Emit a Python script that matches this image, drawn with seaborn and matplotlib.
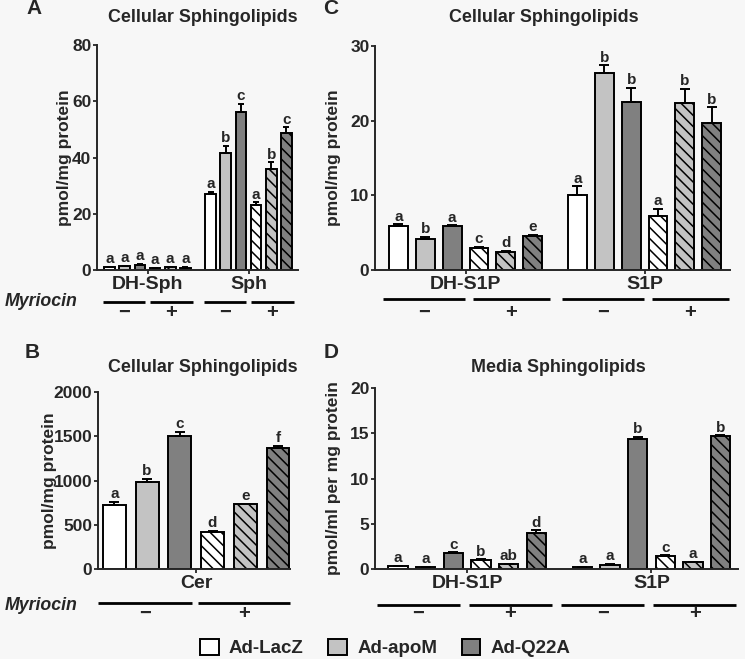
import numpy as np
import pandas as pd
import seaborn as sns
import matplotlib.pyplot as plt
from matplotlib.patches import Patch

sns.set_style("ticks")
plt.rcParams['font.family'] = ['Liberation Sans', 'DejaVu Sans']
plt.rcParams['font.weight'] = 'bold'
plt.rcParams['axes.labelweight'] = 'bold'
plt.rcParams['hatch.linewidth'] = 1.1
plt.rcParams['axes.linewidth'] = 1.4

# treatment groups (adenovirus) x myriocin
groups = ["Ad-LacZ", "Ad-apoM", "Ad-Q22A"]
conditions = ["Ad-LacZ -", "Ad-apoM -", "Ad-Q22A -", "Ad-LacZ +", "Ad-apoM +", "Ad-Q22A +"]
group_colors = ["#ffffff", "#c3c3c3", "#808080"]

# A: cellular DH-Sph / Sph (pmol/mg protein)
a_lipids = ["DH-Sph", "Sph"]
a_dhsph = [1.0, 1.3, 1.8, 0.6, 0.9, 0.8]
a_dhsph_err = [0.2, 0.3, 0.4, 0.1, 0.2, 0.2]
a_dhsph_sig = ["a", "a", "a", "a", "a", "a"]
a_sph = [27.0, 41.6, 56.3, 23.0, 35.9, 48.6]
a_sph_err = [0.9, 2.6, 2.8, 1.1, 2.4, 2.1]
a_sph_sig = ["a", "b", "c", "a", "b", "c"]

# C: cellular DH-S1P / S1P (pmol/mg protein)
c_lipids = ["DH-S1P", "S1P"]
c_dhs1p = [5.9, 4.1, 5.9, 3.0, 2.4, 4.6]
c_dhs1p_err = [0.2, 0.3, 0.1, 0.1, 0.15, 0.1]
c_dhs1p_sig = ["a", "b", "a", "c", "d", "e"]
c_s1p = [10.0, 26.4, 22.5, 7.2, 22.3, 19.7]
c_s1p_err = [1.2, 1.0, 1.9, 1.0, 2.0, 2.1]
c_s1p_sig = ["a", "b", "b", "a", "b", "b"]

# B: cellular ceramide (pmol/mg protein)
b_lipids = ["Cer"]
b_cer = [724, 983, 1505, 420, 732, 1370]
b_cer_err = [38, 38, 41, 12, 8, 22]
b_cer_sig = ["a", "b", "c", "d", "e", "f"]

# D: media DH-S1P / S1P (pmol/ml per mg protein)
d_lipids = ["DH-S1P", "S1P"]
d_dhs1p = [0.29, 0.22, 1.8, 1.0, 0.5, 3.94]
d_dhs1p_err = [0.05, 0.05, 0.05, 0.08, 0.05, 0.33]
d_dhs1p_sig = ["a", "a", "c", "b", "ab", "d"]
d_s1p = [0.18, 0.48, 14.4, 1.47, 0.77, 14.66]
d_s1p_err = [0.05, 0.1, 0.2, 0.05, 0.05, 0.1]
d_s1p_sig = ["a", "a", "b", "c", "a", "b"]

palette = {c: group_colors[i % 3] for i, c in enumerate(conditions)}
W, H = 745, 659


def draw_panel(ax, lipids, means, errs, sigs, yticks, xlim, ylabel, cap=3, sig_size=11):
    df = pd.DataFrame({"lipid": np.repeat(lipids, len(conditions)),
                       "cond": conditions * len(lipids),
                       "value": np.concatenate(means)})
    sns.barplot(data=df, x="lipid", y="value", hue="cond", order=lipids,
                hue_order=conditions, palette=palette, saturation=1,
                width=0.9, gap=0.3, edgecolor="black", linewidth=1.4,
                errorbar=None, legend=False, ax=ax)
    bar_conts = list(ax.containers)
    for k, cont in enumerate(bar_conts):
        for j, bar in enumerate(cont.patches):
            if k >= 3:
                bar.set_hatch('\\\\\\')
            xc = bar.get_x() + bar.get_width() / 2
            top, e = means[j][k], errs[j][k]
            ax.errorbar(xc, top, yerr=[[0], [e]], fmt='none', ecolor='black',
                        elinewidth=1.4, capsize=cap, capthick=1.4)
            ax.annotate(sigs[j][k], (xc, top + e), xytext=(0, 0.5),
                        textcoords='offset points', ha='center', va='bottom',
                        fontsize=sig_size, fontweight='bold')
    ax.set_facecolor('none')
    ax.set_ylim(yticks[0], yticks[-1])
    ax.set_yticks(yticks)
    ax.set_xlim(*xlim)
    ax.set_xticks(range(len(lipids)))
    ax.set_xticklabels(lipids, fontsize=14, fontweight='bold')
    ax.set_xlabel("")
    ax.set_ylabel(ylabel, fontsize=12.5, fontweight='bold')
    ax.tick_params(axis='y', labelsize=12.5, length=3, width=1.3, direction='out', pad=1)
    ax.tick_params(axis='x', length=3, width=1.3, direction='out', pad=1.5)
    sns.despine(ax=ax)


def myriocin_marks(ax, n, y_line, y_sign, minus_span, plus_span):
    tr = ax.get_xaxis_transform()
    for i in range(n):
        for span, sign in ((minus_span, "\u2212"), (plus_span, "+")):
            ax.plot([i + span[0], i + span[1]], [y_line, y_line], color='black',
                    lw=2.0, transform=tr, clip_on=False, solid_capstyle='butt')
            ax.text(i + (span[0] + span[1]) / 2, y_sign, sign, transform=tr,
                    ha='center', va='center', fontsize=14.5, fontweight='bold')


def px_axes(left, right, top, bottom):
    return [left / W, 1 - bottom / H, (right - left) / W, (bottom - top) / H]


fig = plt.figure(figsize=(7.45, 6.59), dpi=100, facecolor='#f7f7f7')

axA = fig.add_axes(px_axes(97, 298, 45, 270))
draw_panel(axA, a_lipids, [a_dhsph, a_sph], [a_dhsph_err, a_sph_err],
           [a_dhsph_sig, a_sph_sig], [0, 20, 40, 60, 80], (-0.5, 1.49),
           "pmol/mg protein", cap=2)
axA.yaxis.set_label_coords(-0.125, 0.5)
axA.text(0.527, 1.12, "Cellular Sphingolipids", transform=axA.transAxes,
         ha='center', va='center', fontsize=12.9, fontweight='bold')
myriocin_marks(axA, 2, -0.142, -0.19, (-0.44, -0.02), (0.02, 0.45))

axC = fig.add_axes(px_axes(375, 730, 46, 270))
draw_panel(axC, c_lipids, [c_dhs1p, c_s1p], [c_dhs1p_err, c_s1p_err],
           [c_dhs1p_sig, c_s1p_sig], [0, 10, 20, 30], (-0.506, 1.477),
           "pmol/mg protein", cap=3.5)
axC.yaxis.set_label_coords(-0.096, 0.5)
axC.text(0.476, 1.125, "Cellular Sphingolipids", transform=axC.transAxes,
         ha='center', va='center', fontsize=12.9, fontweight='bold')
myriocin_marks(axC, 2, -0.13, -0.19, (-0.46, -0.005), (0.04, 0.47))

axB = fig.add_axes(px_axes(98, 290, 392, 569))
draw_panel(axB, b_lipids, [b_cer], [b_cer_err], [b_cer_sig],
           [0, 500, 1000, 1500, 2000], (-0.45, 0.43), "pmol/mg protein", cap=3.5)
axB.yaxis.set_label_coords(-0.214, 0.5)
axB.text(0.547, 1.141, "Cellular Sphingolipids", transform=axB.transAxes,
         ha='center', va='center', fontsize=12.9, fontweight='bold')
myriocin_marks(axB, 1, -0.19, -0.25, (-0.45, -0.02), (0.008, 0.43))

axD = fig.add_axes(px_axes(375, 738, 388, 569))
draw_panel(axD, d_lipids, [d_dhs1p, d_s1p], [d_dhs1p_err, d_s1p_err],
           [d_dhs1p_sig, d_s1p_sig], [0, 5, 10, 15, 20], (-0.5, 1.47),
           "pmol/ml per mg protein", cap=3.5)
axD.yaxis.set_label_coords(-0.094, 0.5)
axD.text(0.504, 1.116, "Media Sphingolipids", transform=axD.transAxes,
         ha='center', va='center', fontsize=12.9, fontweight='bold')
myriocin_marks(axD, 2, -0.2, -0.245, (-0.49, -0.04), (0.01, 0.46))

# panel letters and Myriocin row labels
for letter, (px, py) in zip("ACBD", [(34, 9), (331, 9), (32, 352), (331, 352)]):
    fig.text(px / W, 1 - py / H, letter, ha='center', va='center',
             fontsize=15, fontweight='bold')
for py in (302, 605):
    fig.text(5 / W, 1 - py / H, "Myriocin", ha='left', va='center',
             fontsize=12.8, fontweight='bold', style='italic')

handles = [Patch(facecolor=c, edgecolor='black', linewidth=1.4, label=g)
           for g, c in zip(groups, group_colors)]
fig.legend(handles=handles, loc='center', bbox_to_anchor=(0.517, 1 - 648 / H),
           ncol=3, frameon=False, fontsize=13.5, handlelength=1.0,
           handleheight=1.0, handletextpad=0.55, columnspacing=1.3)

fig.savefig("out.png", dpi=100, facecolor=fig.get_facecolor())
